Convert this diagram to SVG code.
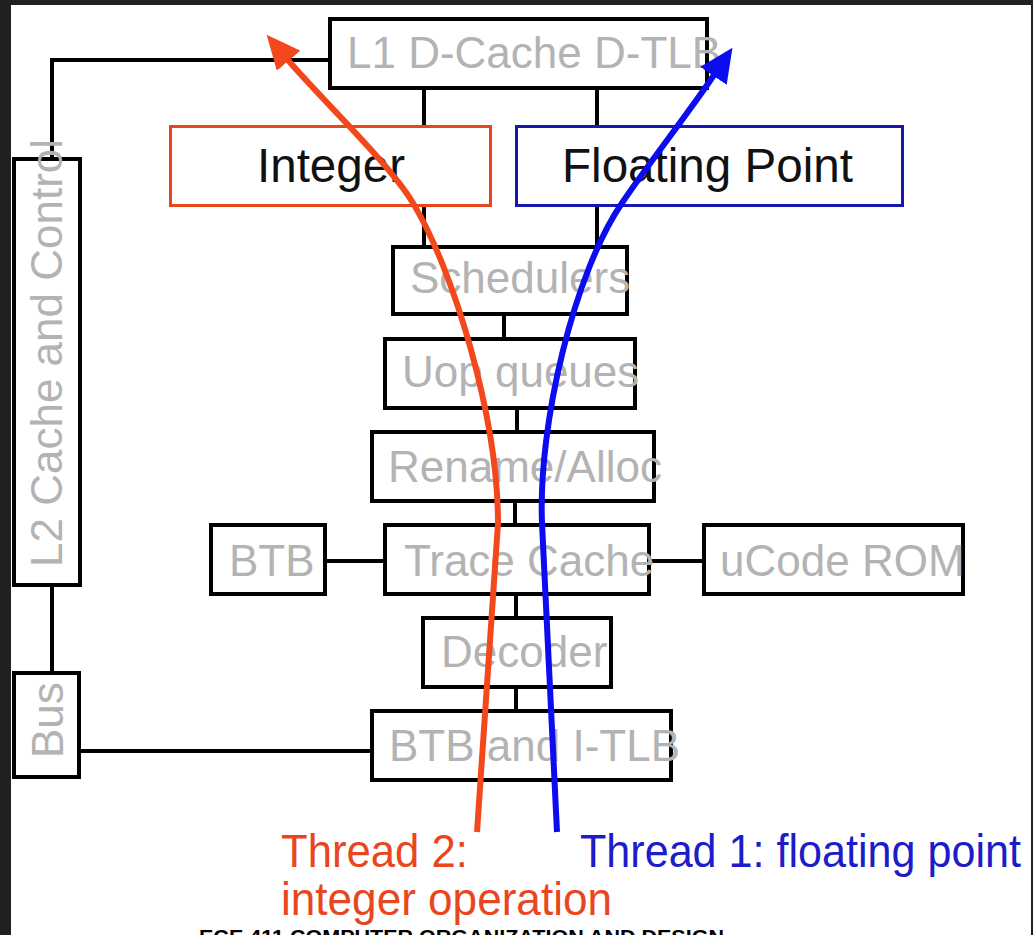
<svg xmlns="http://www.w3.org/2000/svg" width="1033" height="935" viewBox="0 0 1033 935">
  <style>
    .box { fill: #ffffff; stroke: #000000; stroke-width: 4; }
    .wire { fill: none; stroke: #000000; stroke-width: 4; }
    .lbl { font-family: "Liberation Sans", Arial, sans-serif; font-size: 44px; fill: #b3b3b3; }
    .unit { font-family: "Liberation Sans", Arial, sans-serif; font-size: 48px; fill: #111111; }
    .thread { font-family: "Liberation Sans", Arial, sans-serif; font-size: 46px; }
  </style>
  <defs>
    <marker id="headRed" markerUnits="userSpaceOnUse" markerWidth="34" markerHeight="31" viewBox="0 0 34 31" refX="1" refY="15.5" orient="auto">
      <path d="M0,0 L34,15.5 L0,31 Z" fill="#f2481c"/>
    </marker>
    <marker id="headBlue" markerUnits="userSpaceOnUse" markerWidth="34" markerHeight="32" viewBox="0 0 34 32" refX="1" refY="16" orient="auto">
      <path d="M0,0 L34,16 L0,32 Z" fill="#0c0cf0"/>
    </marker>
  </defs>

  <!-- page and dark frame -->
  <rect x="0" y="0" width="1033" height="935" fill="#ffffff"/>
  <rect x="0" y="0" width="11" height="935" fill="#202020"/>
  <rect x="0" y="0" width="1033" height="5" fill="#202020"/>
  <rect x="1031" y="0" width="2" height="935" fill="#202020"/>

  <!-- black links between blocks -->
  <g id="connectors">
    <path class="wire" d="M52,159 V60 H330"/>
    <path class="wire" d="M424,88 V126"/>
    <path class="wire" d="M424,205 V247"/>
    <path class="wire" d="M597,88 V126"/>
    <path class="wire" d="M597,205 V247"/>
    <path class="wire" d="M504,314 V339"/>
    <path class="wire" d="M517,408 V432"/>
    <path class="wire" d="M515,501 V525"/>
    <path class="wire" d="M325,561 H385"/>
    <path class="wire" d="M649,561 H704"/>
    <path class="wire" d="M516,594 V618"/>
    <path class="wire" d="M516,687 V711"/>
    <path class="wire" d="M52,585 V673"/>
    <path class="wire" d="M79,751 H372"/>
  </g>

  <g id="l1-dcache">
    <rect class="box" x="330" y="19" width="377" height="69"/>
    <text class="lbl" x="347" y="68">L1 D-Cache D-TLB</text>
  </g>
  <g id="integer">
    <rect x="170.5" y="126.5" width="320" height="79" fill="#ffffff" stroke="#e8461e" stroke-width="3"/>
    <text class="unit" x="257" y="182" textLength="148" lengthAdjust="spacingAndGlyphs">Integer</text>
  </g>
  <g id="floating-point">
    <rect x="516.5" y="126.5" width="386" height="79" fill="#ffffff" stroke="#1818b0" stroke-width="3"/>
    <text class="unit" x="562" y="182" textLength="291" lengthAdjust="spacingAndGlyphs">Floating Point</text>
  </g>
  <g id="schedulers">
    <rect class="box" x="393" y="247" width="234" height="67"/>
    <text class="lbl" x="410" y="293">Schedulers</text>
  </g>
  <g id="uop-queues">
    <rect class="box" x="385" y="339" width="250" height="69"/>
    <text class="lbl" x="402" y="387">Uop queues</text>
  </g>
  <g id="rename-alloc">
    <rect class="box" x="372" y="432" width="282" height="69"/>
    <text class="lbl" x="388" y="482">Rename/Alloc</text>
  </g>
  <g id="btb">
    <rect class="box" x="211" y="525" width="114" height="69"/>
    <text class="lbl" x="229" y="576">BTB</text>
  </g>
  <g id="trace-cache">
    <rect class="box" x="385" y="525" width="264" height="69"/>
    <text class="lbl" x="404" y="576">Trace Cache</text>
  </g>
  <g id="ucode-rom">
    <rect class="box" x="704" y="525" width="259" height="69"/>
    <text class="lbl" x="720" y="576">uCode ROM</text>
  </g>
  <g id="decoder">
    <rect class="box" x="423" y="618" width="188" height="69"/>
    <text class="lbl" x="441" y="667">Decoder</text>
  </g>
  <g id="btb-itlb">
    <rect class="box" x="372" y="711" width="299" height="69"/>
    <text class="lbl" x="389" y="761">BTB and I-TLB</text>
  </g>
  <g id="l2-cache">
    <rect class="box" x="14" y="159" width="66" height="426"/>
    <text class="lbl" transform="translate(62,567) rotate(-90)">L2 Cache and Control</text>
  </g>
  <g id="bus">
    <rect class="box" x="14" y="673" width="65" height="104"/>
    <text class="lbl" transform="translate(63,758) rotate(-90)">Bus</text>
  </g>

  <!-- the two thread paths through the pipeline -->
  <g id="threads" fill="none">
    <path d="M477,832 L498,523 C498,420 455,273 413,203 C389,163 322,100 288,60" stroke="#f2481c" stroke-width="6" marker-end="url(#headRed)"/>
    <path d="M557,832 L542,523 C538,425 574,273 622,203 C649,163 687,115 714,75" stroke="#0c0cf0" stroke-width="6" marker-end="url(#headBlue)"/>
  </g>

  <g id="thread-labels">
    <text class="thread" x="281" y="867" fill="#e8461e" textLength="187" lengthAdjust="spacingAndGlyphs">Thread 2:</text>
    <text class="thread" x="281" y="915" fill="#e8461e" textLength="331" lengthAdjust="spacingAndGlyphs">integer operation</text>
    <text class="thread" x="580" y="867" fill="#1c1cc8" textLength="441" lengthAdjust="spacingAndGlyphs">Thread 1: floating point</text>
  </g>

  <text x="199" y="944" font-family="'Liberation Sans', Arial, sans-serif" font-size="21" font-weight="bold" fill="#000000" textLength="525" lengthAdjust="spacingAndGlyphs">ECE 411 COMPUTER ORGANIZATION AND DESIGN</text>
</svg>
